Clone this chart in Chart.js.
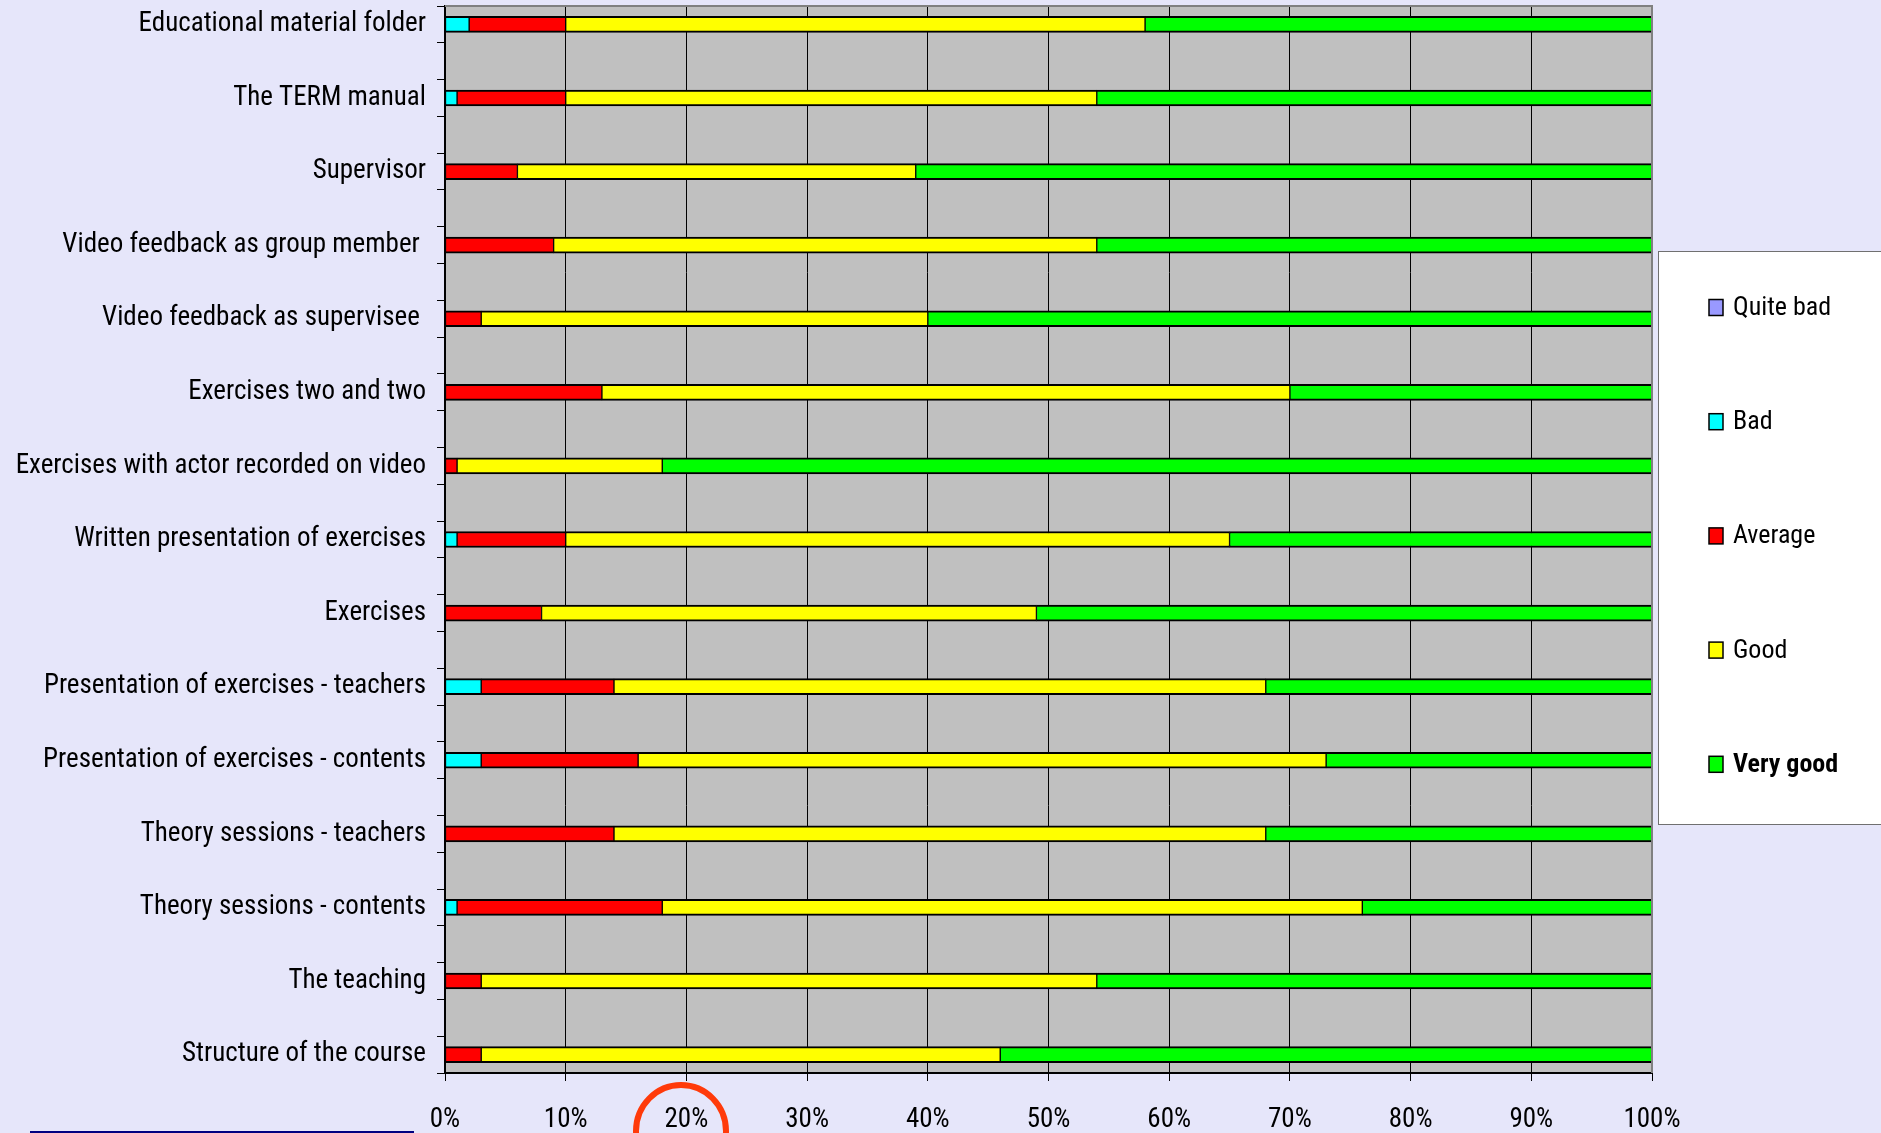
<!DOCTYPE html>
<html>
<head>
<meta charset="utf-8">
<script src="https://cdn.jsdelivr.net/npm/chart.js@4.4.0/dist/chart.umd.min.js"></script>
<style>
  body { margin: 0; background: #E6E6FA; }
  #wrap { width: 1881px; height: 1133px; position: relative; }
</style>
</head>
<body>
<div id="wrap"><canvas id="chart"></canvas></div>
<script>
const categories = [
  "Educational material folder",
  "The TERM manual",
  "Supervisor",
  "Video feedback as group member ",
  "Video feedback as supervisee ",
  "Exercises two and two",
  "Exercises with actor recorded on video",
  "Written presentation of exercises",
  "Exercises",
  "Presentation of exercises - teachers",
  "Presentation of exercises - contents",
  "Theory sessions - teachers",
  "Theory sessions - contents",
  "The teaching",
  "Structure of the course"
];

// percent of answers per item
const quiteBad = [0, 0, 0, 0, 0, 0, 0, 0, 0, 0, 0, 0, 0, 0, 0];
const bad      = [2, 1, 0, 0, 0, 0, 0, 1, 0, 3, 3, 0, 1, 0, 0];
const average  = [8, 9, 6, 9, 3, 13, 1, 9, 8, 11, 13, 14, 17, 3, 3];
const good     = [48, 44, 33, 45, 37, 57, 17, 55, 41, 54, 57, 54, 58, 51, 43];
const veryGood = [42, 46, 61, 46, 60, 30, 82, 35, 51, 32, 27, 32, 24, 46, 54];

const xTicks = [0, 10, 20, 30, 40, 50, 60, 70, 80, 90, 100];

// the sheet has an empty row between every item
const rows = [];
categories.forEach((c, i) => { if (i > 0) rows.push(""); rows.push(c); });
const spread = arr => {
  const out = [];
  arr.forEach((v, i) => { if (i > 0) out.push(null); out.push(v); });
  return out;
};

const labelFont = { family: "'Roboto Condensed', 'Liberation Sans', sans-serif", size: 27 };

const plotBack = {
  id: "plotBack",
  beforeDraw(chart) {
    const { ctx, chartArea: a } = chart;
    ctx.save();
    ctx.fillStyle = "#C0C0C0";
    ctx.fillRect(a.left, a.top, a.right - a.left, a.bottom - a.top);
    ctx.restore();
  },
  afterDraw(chart) {
    const { ctx, chartArea: a } = chart;
    ctx.save();
    ctx.strokeStyle = "#808080";
    ctx.lineWidth = 2;
    ctx.beginPath();
    ctx.moveTo(a.left, a.top);
    ctx.lineTo(a.right, a.top);
    ctx.lineTo(a.right, a.bottom);
    ctx.stroke();

    // legend box
    const lx = a.right + 6, ly = 251, lw = 240, lh = 573;
    ctx.fillStyle = "#FFFFFF";
    ctx.fillRect(lx, ly, lw, lh);
    ctx.lineWidth = 1;
    ctx.strokeStyle = "#707070";
    ctx.strokeRect(lx + 0.5, ly + 0.5, lw, lh);
    chart.data.datasets.forEach((ds, i) => {
      const y = 307.5 + i * 114.2;
      ctx.fillStyle = ds.legendColor;
      ctx.fillRect(lx + 51, y - 8, 14, 16);
      ctx.strokeStyle = "#000";
      ctx.lineWidth = 1.5;
      ctx.strokeRect(lx + 51, y - 8, 14, 16);
      ctx.fillStyle = "#000";
      ctx.font = (i === 4 ? "bold " : "") + "26px 'Roboto Condensed', 'Liberation Sans', sans-serif";
      ctx.textBaseline = "middle";
      ctx.fillText(ds.label, lx + 75, y + 1);
    });

    // marks drawn on the slide
    ctx.strokeStyle = "#FF3A0A";
    ctx.lineWidth = 6;
    ctx.beginPath();
    ctx.ellipse(681, 1131, 45, 46, 0, 0, Math.PI * 2);
    ctx.stroke();
    ctx.fillStyle = "#000080";
    ctx.fillRect(30, 1131, 384, 2);
    ctx.restore();
  }
};

const barStyle = {
  borderColor: "#000000",
  borderWidth: { top: 2, bottom: 2, left: 1, right: 1 },
  borderSkipped: false,
  barThickness: 16
};

new Chart(document.getElementById("chart"), {
  type: "bar",
  data: {
    labels: rows,
    datasets: [
      { label: "Quite bad", data: spread(quiteBad), backgroundColor: "#9999FF", legendColor: "#9999FF", ...barStyle },
      { label: "Bad", data: spread(bad), backgroundColor: "#00FFFF", legendColor: "#00FFFF", ...barStyle },
      { label: "Average", data: spread(average), backgroundColor: "#FF0000", legendColor: "#FF0000", ...barStyle },
      { label: "Good", data: spread(good), backgroundColor: "#FFFF00", legendColor: "#FFFF00", ...barStyle },
      { label: "Very good", data: spread(veryGood), backgroundColor: "#00FF00", legendColor: "#00FF00", ...barStyle }
    ]
  },
  options: {
    indexAxis: "y",
    responsive: true,
    maintainAspectRatio: false,
    animation: false,
    layout: { padding: { top: 6, right: 229, bottom: 0, left: 0 } },
    plugins: { legend: { display: false }, tooltip: { enabled: false } },
    scales: {
      x: {
        stacked: true,
        min: 0,
        max: 100,
        afterBuildTicks: scale => { scale.ticks = xTicks.map(v => ({ value: v })); },
        afterFit: scale => { scale.height = 60; },
        ticks: { callback: v => v + "%", color: "#000", font: labelFont, padding: 23, maxRotation: 0 },
        grid: { color: "#000", lineWidth: 1, tickLength: 8 },
        border: { color: "#000", width: 2 }
      },
      y: {
        stacked: true,
        afterFit: scale => {
          scale.width = 445;
          scale.paddingTop = 0;
          scale.paddingBottom = 0;
        },
        ticks: { color: "#000", font: labelFont, padding: 11, autoSkip: false },
        grid: { drawOnChartArea: false, color: "#000", tickLength: 8 },
        border: { color: "#000", width: 2 }
      }
    }
  },
  plugins: [plotBack]
});
</script>
</body>
</html>
